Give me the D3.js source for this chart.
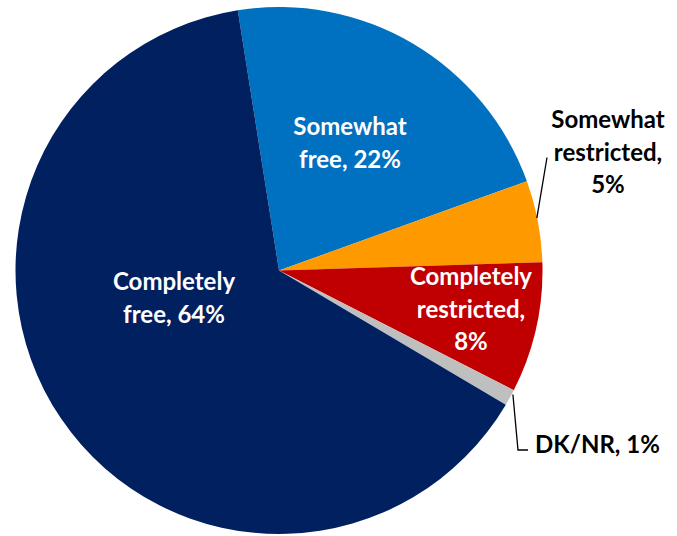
<!DOCTYPE html>
<html>
<head>
<meta charset="utf-8">
<script src="https://cdn.jsdelivr.net/npm/d3@7"></script>
<style>
  html, body { margin: 0; padding: 0; background: #fff; }
  svg { display: block; }
  text { font-family: Lato, "Open Sans", sans-serif; font-weight: 700; font-size: 24px; }
</style>
</head>
<body>
<svg id="chart" width="677" height="536"></svg>
<script>
// Survey answers, in drawing order (clockwise)
const categories = ["Somewhat free", "Somewhat restricted", "Completely restricted", "DK/NR", "Completely free"];
const values = [22, 5, 8, 1, 64];
const colors = ["#0070C0", "#FF9900", "#C00000", "#BFBFBF", "#002060"];
const labelLines = [
  ["Somewhat", "free, 22%"],
  ["Somewhat", "restricted,", "5%"],
  ["Completely", "restricted,", "8%"],
  ["DK/NR, 1%"],
  ["Completely", "free, 64%"]
];

const W = 677, H = 536;
const cx = 279, cy = 270.5, R = 263.5;
const lineH = 32.5;

// label placement relative to the pie centre
const labelLayout = {
  "Somewhat free":         { dx: 71,  dy: -129, anchor: "middle", fill: "#fff" },
  "Somewhat restricted":   { dx: 329, dy: -120, anchor: "middle", fill: "#000" },
  "Completely restricted": { dx: 192, dy: 37,   anchor: "middle", fill: "#fff" },
  "DK/NR":                 { dx: 256, dy: 172,  anchor: "start",  fill: "#000" },
  "Completely free":       { dx: -105, dy: 26,  anchor: "middle", fill: "#fff" }
};

const svg = d3.select("#chart");
const g = svg.append("g").attr("transform", `translate(${cx},${cy})`);

const data = categories.map((c, i) => ({ category: c, value: values[i], color: colors[i], lines: labelLines[i] }));

const startAngle = -9 * Math.PI / 180;
const pie = d3.pie().sort(null).value(d => d.value)
  .startAngle(startAngle).endAngle(startAngle + 2 * Math.PI);
const arcs = pie(data);
const arc = d3.arc().innerRadius(0).outerRadius(R);
const edgeArc = d3.arc().innerRadius(R).outerRadius(R);

g.selectAll("path.slice").data(arcs).join("path")
  .attr("class", "slice")
  .attr("d", arc)
  .attr("fill", d => d.data.color);

// leader lines for the labels placed outside the pie
function edgePoint(d) {
  const a = (d.startAngle + d.endAngle) / 2;
  return [R * Math.sin(a), -R * Math.cos(a)];
}
arcs.forEach(d => {
  const c = d.data.category;
  if (c === "Somewhat restricted") {
    const p = edgePoint(d);
    g.append("path")
      .attr("d", d3.line()([[p[0] - 1, p[1] - 3], [268, -113]]))
      .attr("fill", "none").attr("stroke", "#000").attr("stroke-width", 1.3);
  } else if (c === "DK/NR") {
    const p = edgePoint(d);
    g.append("path")
      .attr("d", d3.line()([[p[0] + 3, p[1] - 3], [239, 179.5], [249, 179.5]]))
      .attr("fill", "none").attr("stroke", "#000").attr("stroke-width", 1.3);
  }
});

// data labels
arcs.forEach(d => {
  const L = labelLayout[d.data.category];
  const n = d.data.lines.length;
  const t = g.append("text")
    .attr("text-anchor", L.anchor)
    .attr("fill", L.fill)
    .attr("x", L.dx)
    .attr("y", L.dy - (n - 1) * lineH / 2)
    .attr("dominant-baseline", "central");
  d.data.lines.forEach((s, i) => {
    t.append("tspan").attr("x", L.dx).attr("dy", i === 0 ? 0 : lineH).text(s);
  });
});
</script>
</body>
</html>
